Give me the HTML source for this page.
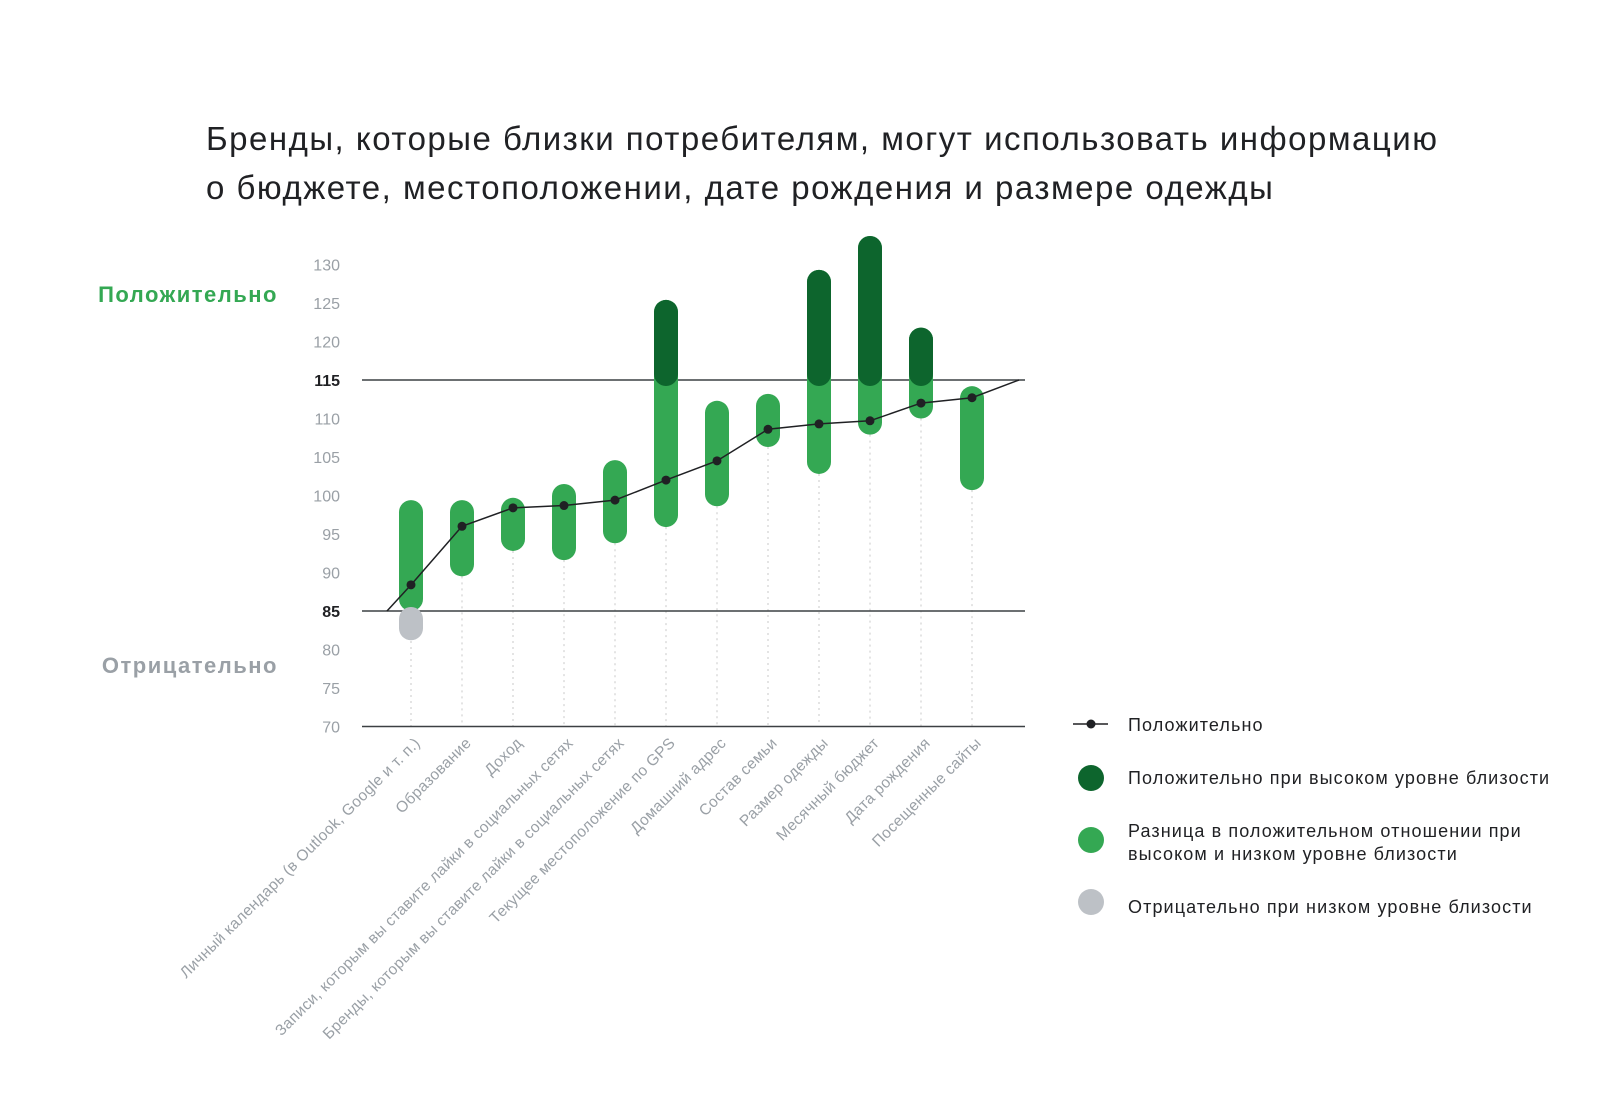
<!DOCTYPE html>
<html><head><meta charset="utf-8"><style>
body{margin:0;background:#fff;width:1600px;height:1090px;overflow:hidden;font-family:"Liberation Sans","DejaVu Sans",sans-serif}
</style></head><body>
<svg width="1600" height="1090" xmlns="http://www.w3.org/2000/svg">
<text x="206" y="150" font-size="33" letter-spacing="1.5" fill="#202124">Бренды, которые близки потребителям, могут использовать информацию</text>
<text x="206" y="199" font-size="33" letter-spacing="1.5" fill="#202124">о бюджете, местоположении, дате рождения и размере одежды</text>
<text x="278" y="302" font-size="22" letter-spacing="1.5" font-weight="bold" fill="#34a853" text-anchor="end">Положительно</text>
<text x="278" y="673" font-size="22" letter-spacing="1.5" font-weight="bold" fill="#9aa0a6" text-anchor="end">Отрицательно</text>
<g id="axis"></g><g id="bars"></g><g id="line"></g><g id="xlabels"></g>
<g letter-spacing="1.1">
<line x1="1073" y1="724" x2="1108" y2="724" stroke="#202124" stroke-width="1.5"/>
<circle cx="1091" cy="724" r="4.5" fill="#202124"/>
<text x="1128" y="731" font-size="18" fill="#202124">Положительно</text>
<circle cx="1091" cy="778" r="13" fill="#0d652d"/>
<text x="1128" y="784" font-size="18" fill="#202124">Положительно при высоком уровне близости</text>
<circle cx="1091" cy="840" r="13" fill="#34a853"/>
<text x="1128" y="837" font-size="18" fill="#202124">Разница в положительном отношении при</text>
<text x="1128" y="860" font-size="18" fill="#202124">высоком и низком уровне близости</text>
<circle cx="1091" cy="902" r="13" fill="#bdc1c6"/>
<text x="1128" y="913" font-size="18" fill="#202124">Отрицательно при низком уровне близости</text>
</g>
</svg>
<script>
const categories=["Личный календарь (в Outlook, Google и т. п.)","Образование","Доход","Записи, которым вы ставите лайки в социальных сетях","Бренды, которым вы ставите лайки в социальных сетях","Текущее местоположение по GPS","Домашний адрес","Состав семьи","Размер одежды","Месячный бюджет","Дата рождения","Посещенные сайты"];
const highValues=[99.4,99.4,99.7,101.5,104.6,125.4,112.3,113.2,129.3,133.7,121.8,114.2];
const lowValues=[85,89.5,92.8,91.6,93.8,95.9,98.6,106.3,102.8,107.9,110,100.7];
const negValues=[81.2,null,null,null,null,null,null,null,null,null,null,null];
const pointValues=[88.4,96,98.4,98.7,99.4,102,104.5,108.6,109.3,109.7,112,112.7];
const yTicks=[70,75,80,85,90,95,100,105,110,115,120,125,130];
const NS="http://www.w3.org/2000/svg";
const y=v=>611-(v-85)*7.7;
const x=i=>411+i*51;
function mk(tag,attrs,parent){const e=document.createElementNS(NS,tag);for(const k in attrs)e.setAttribute(k,attrs[k]);document.getElementById(parent).appendChild(e);return e;}
yTicks.forEach(t=>{const bold=(t===85||t===115);
const e=mk('text',{x:340,y:y(t)+6,'font-size':16,fill:bold?'#202124':'#9aa0a6','text-anchor':'end','font-weight':bold?'bold':'normal'},'axis');


e.textContent=t;});
categories.forEach((c,i)=>{const g=mk('line',{x1:x(i),x2:x(i),y1:y(lowValues[i]),y2:726,stroke:'#c8c8c8','stroke-dasharray':'2,4'},'axis');

});
[[85,'#3c4043'],[115,'#3c4043'],[70,'#3c4043']].forEach(([v,c])=>{const l=mk('line',{x1:362,x2:1025,y1:y(v),y2:y(v),stroke:c,'stroke-width':1.5},'axis');

});
const W=24;
categories.forEach((c,i)=>{
const top=y(highValues[i]),bot=y(lowValues[i]);
const b=mk('rect',{x:x(i)-W/2,y:top,width:W,height:bot-top,rx:12,fill:'#34a853'},'bars');


if(highValues[i]>115){const d=mk('rect',{x:x(i)-W/2,y:top,width:W,height:y(115)+6-top,rx:12,fill:'#0d652d'},'bars');

}
if(negValues[i]!=null){const gy=y(85)-4;const n=mk('rect',{x:x(i)-W/2,y:gy,width:W,height:y(negValues[i])-gy,rx:12,fill:'#bdc1c6'},'bars');

}
const t=mk('text',{'font-size':15.5,'letter-spacing':0.3,fill:'#9aa0a6','text-anchor':'end',transform:`translate(${x(i)+10},744) rotate(-45)`},'xlabels');


t.textContent=c;});
let pts=[[387,y(85)]];pointValues.forEach((v,i)=>pts.push([x(i),y(v)]));pts.push([1019,y(115)]);
const pl=mk('polyline',{points:pts.map(p=>p.join(',')).join(' '),fill:'none',stroke:'#202124','stroke-width':1.5},'line');


pointValues.forEach((v,i)=>{const p=mk('circle',{cx:x(i),cy:y(v),r:4.5,fill:'#202124'},'line');

});
</script>
</body></html>
